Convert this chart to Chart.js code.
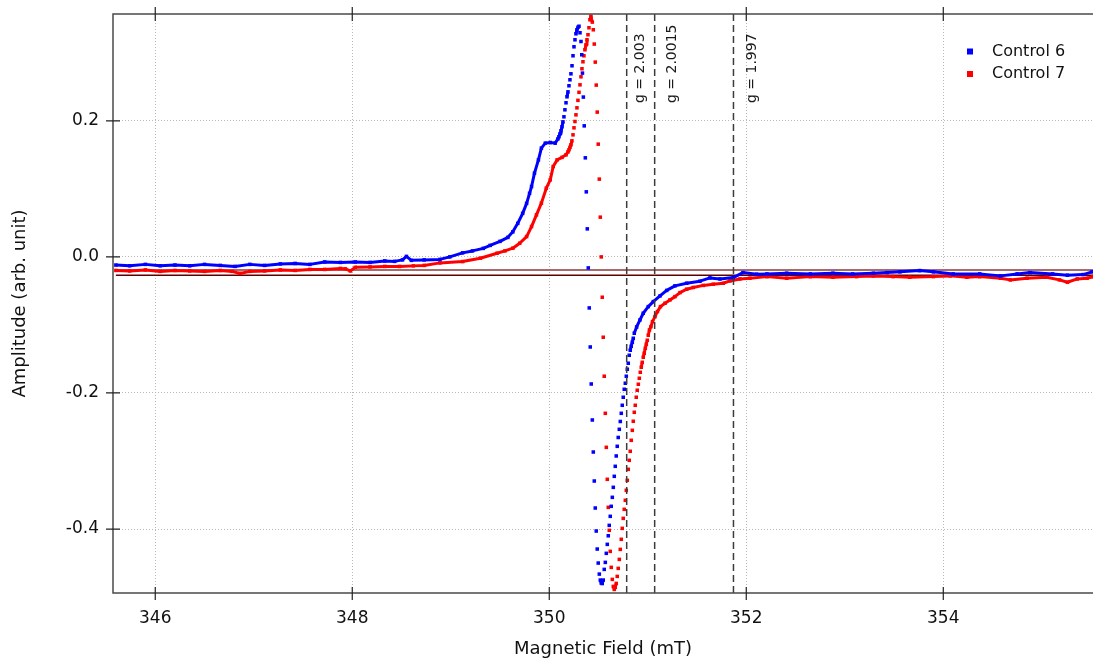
<!DOCTYPE html>
<html>
<head>
<meta charset="utf-8">
<script src="https://cdn.jsdelivr.net/npm/chart.js@4.4.1/dist/chart.umd.min.js"></script>
<style>
html, body { margin: 0; padding: 0; background: #fff; overflow: hidden; }
#wrap { width: 1093px; height: 660px; }
</style>
</head>
<body>
<div id="wrap"><canvas id="graph" width="1093" height="660"></canvas></div>
<script>
// Control 6 (blue)
const blueField = [
    345.60, 345.74, 345.90, 346.05, 346.20, 346.35, 346.50, 346.66, 346.81, 346.96,
    347.11, 347.27, 347.42, 347.57, 347.72, 347.88, 348.03, 348.18, 348.33, 348.43,
    348.51, 348.55, 348.60, 348.73, 348.89, 348.99, 349.12, 349.22, 349.33, 349.40,
    349.50, 349.58, 349.63, 349.68, 349.73, 349.77, 349.80, 349.82, 349.85, 349.89,
    349.92, 349.96, 350.01, 350.06,
    350.088, 350.098, 350.109, 350.119, 350.129, 350.139, 350.149, 350.159, 350.170, 350.180,
    350.190, 350.200, 350.210, 350.220, 350.231, 350.241, 350.251, 350.261, 350.271, 350.281,
    350.292, 350.302, 350.312, 350.322, 350.330, 350.337, 350.346, 350.355, 350.366, 350.376,
    350.386, 350.396, 350.406, 350.416, 350.426, 350.437, 350.447, 350.457, 350.467, 350.477,
    350.487, 350.497, 350.508, 350.518, 350.528, 350.538, 350.548, 350.558, 350.569, 350.579,
    350.589, 350.599, 350.609, 350.619, 350.629, 350.640, 350.650, 350.660, 350.670, 350.680,
    350.690, 350.700, 350.711, 350.721, 350.731, 350.741, 350.751, 350.761, 350.772, 350.782,
    350.792, 350.802, 350.812, 350.822, 350.832, 350.843, 350.853, 350.863,
    350.887, 350.921, 350.954, 351.005, 351.056, 351.124, 351.192, 351.276, 351.395, 351.530,
    351.631, 351.733, 351.868, 351.966, 352.105, 352.21, 352.41, 352.65, 352.88, 353.08,
    353.29, 353.43, 353.56, 353.76, 353.90, 354.10, 354.37, 354.58, 354.75, 354.88,
    355.11, 355.26, 355.42, 355.51
];
const blueAmp = [
    -0.012, -0.013, -0.011, -0.013, -0.012, -0.013, -0.011, -0.0125, -0.014, -0.011,
    -0.0125, -0.0103, -0.0096, -0.011, -0.0074, -0.0081, -0.0074, -0.0081, -0.0059, -0.0066,
    -0.0044, 0.0007, -0.0051, -0.0044, -0.0037, 0.0, 0.0059, 0.0088, 0.0125, 0.0169,
    0.0228, 0.0287, 0.0368, 0.0493, 0.064, 0.0787, 0.0934, 0.1034, 0.1231, 0.1426,
    0.1599, 0.1672, 0.1681, 0.1672,
    0.1735, 0.1765, 0.1809, 0.1853, 0.1912, 0.1985, 0.2059, 0.2162, 0.2265, 0.2353,
    0.2426, 0.2515, 0.2603, 0.2691, 0.2809, 0.2956, 0.3088, 0.3191, 0.3279, 0.3338,
    0.3375, 0.339, 0.3294, 0.3166, 0.2971, 0.2701, 0.2349, 0.1926, 0.1456, 0.0956,
    0.0412, -0.0162, -0.075, -0.1324, -0.1868, -0.2397, -0.2868, -0.3294, -0.3691, -0.4029,
    -0.4294, -0.45, -0.4662, -0.475, -0.4794, -0.4801, -0.475, -0.4593, -0.449, -0.4357,
    -0.4225, -0.4099, -0.3946, -0.3813, -0.3666, -0.3534, -0.3387, -0.3225, -0.3078, -0.2926,
    -0.2784, -0.2654, -0.2534, -0.2419, -0.2299, -0.2181, -0.2063, -0.1946, -0.1857, -0.1754,
    -0.1651, -0.1563, -0.1446, -0.1372, -0.1313, -0.1254, -0.1196, -0.1122,
    -0.103, -0.0926, -0.0828, -0.0731, -0.0657, -0.0574, -0.0493, -0.0426, -0.0387, -0.0357,
    -0.0309, -0.0324, -0.0304, -0.0231, -0.0254, -0.025, -0.024, -0.025, -0.024, -0.025,
    -0.024, -0.0231, -0.022, -0.0201, -0.022, -0.025, -0.025, -0.0279, -0.025, -0.0231,
    -0.025, -0.0269, -0.026, -0.022
];

// Control 7 (red)
const redField = [
    345.60, 345.74, 345.90, 346.05, 346.20, 346.35, 346.50, 346.66, 346.78, 346.86,
    346.96, 347.11, 347.27, 347.42, 347.57, 347.72, 347.88, 347.93, 347.98, 348.03,
    348.18, 348.33, 348.48, 348.62, 348.73, 348.89, 349.12, 349.30, 349.47, 349.55,
    349.63, 349.70, 349.77, 349.82, 349.87, 349.92, 349.97, 350.01, 350.04, 350.08,
    350.13, 350.17,
    350.190, 350.200, 350.210, 350.220, 350.230, 350.241, 350.251, 350.261, 350.271, 350.281,
    350.291, 350.302, 350.312, 350.322, 350.332, 350.342, 350.352, 350.362, 350.373, 350.383,
    350.393, 350.403, 350.413, 350.423, 350.437, 350.447, 350.457, 350.467, 350.477, 350.487,
    350.497, 350.508, 350.518, 350.528, 350.538, 350.548, 350.558, 350.569, 350.579, 350.589,
    350.599, 350.609, 350.619, 350.629, 350.640, 350.650, 350.660, 350.670, 350.680, 350.690,
    350.700, 350.711, 350.721, 350.731, 350.741, 350.751, 350.761, 350.772, 350.782, 350.792,
    350.802, 350.812, 350.822, 350.832, 350.843, 350.853, 350.863, 350.873, 350.883, 350.893,
    350.904, 350.914, 350.924, 350.934, 350.944, 350.954, 350.964, 350.975, 350.985, 350.995,
    351.005, 351.017, 351.032, 351.048, 351.073, 351.098, 351.129, 351.175, 351.225, 351.276,
    351.327, 351.395, 351.462, 351.563, 351.665, 351.766, 351.834, 351.936, 352.037, 352.21,
    352.41, 352.65, 352.88, 353.12, 353.29, 353.49, 353.66, 353.90, 354.07, 354.24,
    354.37, 354.58, 354.68, 354.85, 355.05, 355.18, 355.26, 355.36, 355.46, 355.52
];
const redAmp = [
    -0.0199, -0.0206, -0.0191, -0.0213, -0.0199, -0.0206, -0.0213, -0.0199, -0.0213, -0.0243,
    -0.0213, -0.0206, -0.0191, -0.0199, -0.0184, -0.0184, -0.0169, -0.0176, -0.0206, -0.0154,
    -0.0147, -0.014, -0.014, -0.0132, -0.0125, -0.0088, -0.0069, -0.0019, 0.0054, 0.0088,
    0.0128, 0.0201, 0.0299, 0.0446, 0.0618, 0.079, 0.101, 0.1132, 0.1328, 0.1426,
    0.1463, 0.15,
    0.1544, 0.1574, 0.161, 0.1647, 0.1706, 0.1794, 0.1897, 0.199, 0.2088, 0.2191,
    0.2301, 0.2419, 0.2529, 0.2647, 0.2765, 0.2868, 0.2956, 0.3044, 0.3118, 0.3191,
    0.3265, 0.3368, 0.3485, 0.3537, 0.3451, 0.3338, 0.3128, 0.2863, 0.2525, 0.2128,
    0.1657, 0.1143, 0.0584, 0.0, -0.0593, -0.1181, -0.1754, -0.2299, -0.2799, -0.3269,
    -0.3681, -0.4019, -0.4328, -0.4563, -0.474, -0.4843, -0.4887, -0.4857, -0.4799, -0.4696,
    -0.4578, -0.4446, -0.4299, -0.4151, -0.399, -0.3843, -0.371, -0.3578, -0.3431, -0.3284,
    -0.3122, -0.299, -0.2857, -0.2696, -0.2549, -0.2416, -0.2284, -0.2181, -0.2063, -0.196,
    -0.1872, -0.1784, -0.1696, -0.1622, -0.1549, -0.1475, -0.1416, -0.1343, -0.1284, -0.1225,
    -0.1151, -0.1074, -0.1025, -0.0951, -0.0878, -0.0804, -0.0731, -0.0681, -0.0632, -0.0584,
    -0.0525, -0.0475, -0.0449, -0.0419, -0.0401, -0.0387, -0.0353, -0.0324, -0.0313, -0.029,
    -0.0313, -0.029, -0.0299, -0.029, -0.0279, -0.029, -0.0299, -0.029, -0.0279, -0.0299,
    -0.029, -0.0313, -0.0338, -0.0313, -0.0299, -0.0338, -0.0372, -0.0324, -0.0313, -0.029
];

// baseline levels (two horizontal reference lines)
const baseField = [345.60, 355.52];
const baseLevels = [-0.0191, -0.0269];

// g-factor markers
const gFields = [350.786, 351.07, 351.87];
const gLabels = ['g = 2.003', 'g = 2.0015', 'g = 1.997'];
const gLabelShift = [17, 21.5, 23];

const xTickValues = [346, 348, 350, 352, 354];
const yTickValues = [-0.4, -0.2, 0.0, 0.2];

const FONT = '"DejaVu Sans", Verdana, sans-serif';
Chart.defaults.font.family = FONT;
Chart.defaults.color = '#111';

function pairs(xs, ys) {
    return xs.map((x, i) => ({ x: x, y: ys[i] }));
}

// hide the joining line where the sampled points are far apart (steep parts)
function steep(c) {
    const dx = Math.abs(c.p1.x - c.p0.x);
    const dy = Math.abs(c.p1.y - c.p0.y);
    return dy > 5 * Math.max(dx, 1);
}

function series(label, xs, ys, color) {
    return {
        label: label,
        data: pairs(xs, ys),
        showLine: true,
        borderColor: color,
        backgroundColor: color,
        borderWidth: 3,
        borderJoinStyle: 'round',
        pointStyle: 'rect',
        pointRadius: 2.5,
        pointBorderWidth: 0,
        pointBackgroundColor: color,
        segment: { borderColor: c => steep(c) ? 'rgba(0,0,0,0)' : undefined }
    };
}

function baseLine(level, color, width) {
    return {
        label: '',
        data: pairs(baseField, [level, level]),
        showLine: true,
        borderColor: color,
        borderWidth: width,
        pointRadius: 0
    };
}

function noPad(s) {
    s.paddingLeft = 0;
    s.paddingRight = 0;
    s.paddingTop = 0;
    s.paddingBottom = 0;
}

const overlay = {
    id: 'overlay',
    afterDatasetsDraw(chart) {
        const ctx = chart.ctx, a = chart.chartArea;
        const xs = chart.scales.x, ys = chart.scales.y;
        ctx.save();

        // dashed g markers
        ctx.strokeStyle = '#3c3c3c';
        ctx.lineWidth = 1.5;
        ctx.setLineDash([7, 4]);
        gFields.forEach(f => {
            const px = xs.getPixelForValue(f);
            ctx.beginPath();
            ctx.moveTo(px, a.top);
            ctx.lineTo(px, a.bottom);
            ctx.stroke();
        });
        ctx.setLineDash([]);

        ctx.fillStyle = '#1a1a1a';
        ctx.font = '14px ' + FONT;
        ctx.textAlign = 'left';
        ctx.textBaseline = 'alphabetic';
        gFields.forEach((f, i) => {
            const px = xs.getPixelForValue(f);
            ctx.save();
            ctx.translate(px + gLabelShift[i], a.top + 89);
            ctx.rotate(-Math.PI / 2);
            ctx.fillText(gLabels[i], 0, 0);
            ctx.restore();
        });

        // frame: left, top, bottom
        ctx.strokeStyle = '#4a4a4a';
        ctx.lineWidth = 1.5;
        ctx.beginPath();
        ctx.moveTo(a.right, a.top);
        ctx.lineTo(a.left, a.top);
        ctx.lineTo(a.left, a.bottom);
        ctx.lineTo(a.right, a.bottom);
        ctx.stroke();

        // crossing tick marks
        ctx.strokeStyle = '#222';
        ctx.lineWidth = 1.2;
        ctx.beginPath();
        ys.ticks.forEach(t => {
            const py = ys.getPixelForValue(t.value);
            ctx.moveTo(a.left - 7, py);
            ctx.lineTo(a.left + 7, py);
        });
        xs.ticks.forEach(t => {
            const px = xs.getPixelForValue(t.value);
            ctx.moveTo(px, a.bottom - 6);
            ctx.lineTo(px, a.bottom + 7);
            ctx.moveTo(px, a.top - 7);
            ctx.lineTo(px, a.top + 7);
        });
        ctx.stroke();
        ctx.restore();
    },
    afterDraw(chart) {
        // legend, top right inside the plot
        const ctx = chart.ctx;
        const rows = [51.5, 74];
        ctx.save();
        ctx.font = '16px ' + FONT;
        ctx.textAlign = 'left';
        ctx.textBaseline = 'middle';
        [0, 1].forEach((d, i) => {
            const ds = chart.data.datasets[d];
            ctx.fillStyle = ds.borderColor;
            ctx.fillRect(967, rows[i] - 3, 6, 6);
            ctx.fillStyle = '#111';
            ctx.fillText(ds.label, 992, rows[i]);
        });
        ctx.restore();
    }
};

new Chart(document.getElementById('graph'), {
    type: 'scatter',
    data: {
        datasets: [
            series('Control 6', blueField, blueAmp, '#0000ff'),
            series('Control 7', redField, redAmp, '#ff0000'),
            baseLine(baseLevels[0], '#a86a6a', 2),
            baseLine(baseLevels[1], '#5c0000', 1.5)
        ]
    },
    options: {
        responsive: false,
        animation: false,
        events: [],
        devicePixelRatio: 1,
        layout: { autoPadding: false, padding: { left: 0, top: 14, right: 0, bottom: 0 } },
        plugins: {
            legend: { display: false },
            tooltip: { enabled: false }
        },
        scales: {
            x: {
                type: 'linear',
                position: 'bottom',
                min: 345.571,
                max: 355.52,
                afterBuildTicks: s => { s.ticks = xTickValues.map(v => ({ value: v })); },
                afterFit: s => { s.height = 67; noPad(s); },
                ticks: {
                    padding: 15,
                    font: { size: 17 },
                    color: '#111',
                    callback: v => v.toFixed(0)
                },
                grid: { color: '#b8b8b8', lineWidth: 1, drawTicks: false },
                border: { display: false, dash: [1, 2] },
                title: {
                    display: true,
                    text: 'Magnetic Field (mT)',
                    font: { size: 18 },
                    color: '#111',
                    padding: { top: 0, bottom: 0 }
                }
            },
            y: {
                type: 'linear',
                min: -0.494,
                max: 0.357,
                afterBuildTicks: s => { s.ticks = yTickValues.map(v => ({ value: v })); },
                afterFit: s => { s.width = 113; noPad(s); },
                ticks: {
                    padding: 14,
                    font: { size: 17 },
                    color: '#111',
                    callback: v => v.toFixed(1)
                },
                grid: { color: '#b8b8b8', lineWidth: 1, drawTicks: false },
                border: { display: false, dash: [1, 2] },
                title: {
                    display: true,
                    text: 'Amplitude (arb. unit)',
                    font: { size: 18 },
                    color: '#111',
                    padding: { top: 10, bottom: 0 }
                }
            }
        }
    },
    plugins: [overlay]
});
</script>
</body>
</html>
